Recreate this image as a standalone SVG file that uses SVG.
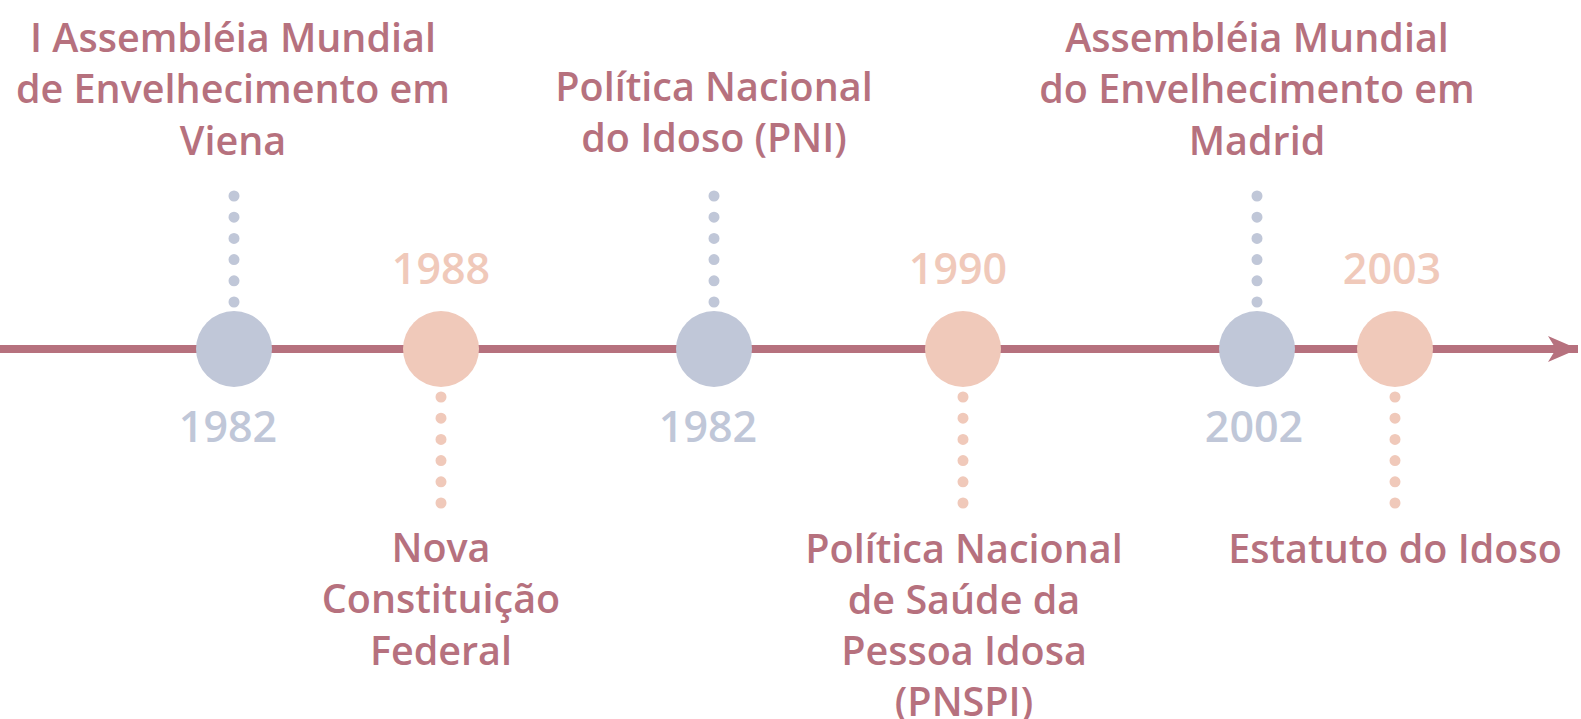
<svg xmlns="http://www.w3.org/2000/svg" width="1581" height="719" viewBox="0 0 1581 719">
<defs>
<style>
.lbl{font-family:"Open Sans","Noto Sans","Liberation Sans",sans-serif;font-weight:600;font-size:39.5px;fill:#B6717E;text-anchor:middle}
.yr{font-family:"Open Sans","Noto Sans","Liberation Sans",sans-serif;font-weight:600;font-size:43px;text-anchor:middle}
.blue{fill:#C0C7D8}
.peach{fill:#F0C9BA}
.dotb{stroke:#C0C7D8;stroke-width:11;stroke-linecap:round;stroke-dasharray:0 21.2;fill:none}
.dotp{stroke:#F0C9BA;stroke-width:11;stroke-linecap:round;stroke-dasharray:0 21.2;fill:none}
</style>
<marker id="arr" markerUnits="userSpaceOnUse" markerWidth="34" markerHeight="30" refX="30" refY="13" orient="auto">
<path d="M0,0 L30,13 L0,26 L8,13 Z" fill="#B6717E"/>
</marker>
</defs>
<g id="connectors">
<line x1="0" y1="349" x2="1578" y2="349" stroke="#B6717E" stroke-width="8" marker-end="url(#arr)"/>
<path class="dotb" d="M234,196 V304"/>
<path class="dotp" d="M441,397 V505"/>
<path class="dotb" d="M714,196 V304"/>
<path class="dotp" d="M963,397 V505"/>
<path class="dotb" d="M1257,196 V304"/>
<path class="dotp" d="M1395,397 V505"/>
</g>
<g id="n1">
<circle class="blue" cx="234" cy="349" r="38"/>
<text class="yr blue" x="228" y="442">1982</text>
<text class="lbl" x="233" y="52">I Assembléia Mundial</text>
<text class="lbl" x="233" y="103">de Envelhecimento em</text>
<text class="lbl" x="233" y="155">Viena</text>
</g>
<g id="n2">
<circle class="peach" cx="441" cy="349" r="38"/>
<text class="yr peach" x="441" y="284">1988</text>
<text class="lbl" x="441" y="562">Nova</text>
<text class="lbl" x="441" y="613">Constituição</text>
<text class="lbl" x="441" y="665">Federal</text>
</g>
<g id="n3">
<circle class="blue" cx="714" cy="349" r="38"/>
<text class="yr blue" x="708" y="442">1982</text>
<text class="lbl" x="714" y="101">Política Nacional</text>
<text class="lbl" x="714" y="152">do Idoso (PNI)</text>
</g>
<g id="n4">
<circle class="peach" cx="963" cy="349" r="38"/>
<text class="yr peach" x="958" y="284">1990</text>
<text class="lbl" x="964" y="563">Política Nacional</text>
<text class="lbl" x="964" y="614">de Saúde da</text>
<text class="lbl" x="964" y="665">Pessoa Idosa</text>
<text class="lbl" x="964" y="716">(PNSPI)</text>
</g>
<g id="n5">
<circle class="blue" cx="1257" cy="349" r="38"/>
<text class="yr blue" x="1254" y="442">2002</text>
<text class="lbl" x="1257" y="52">Assembléia Mundial</text>
<text class="lbl" x="1257" y="103">do Envelhecimento em</text>
<text class="lbl" x="1257" y="155">Madrid</text>
</g>
<g id="n6">
<circle class="peach" cx="1395" cy="349" r="38"/>
<text class="yr peach" x="1392" y="284">2003</text>
<text class="lbl" x="1395" y="563">Estatuto do Idoso</text>
</g>
</svg>
